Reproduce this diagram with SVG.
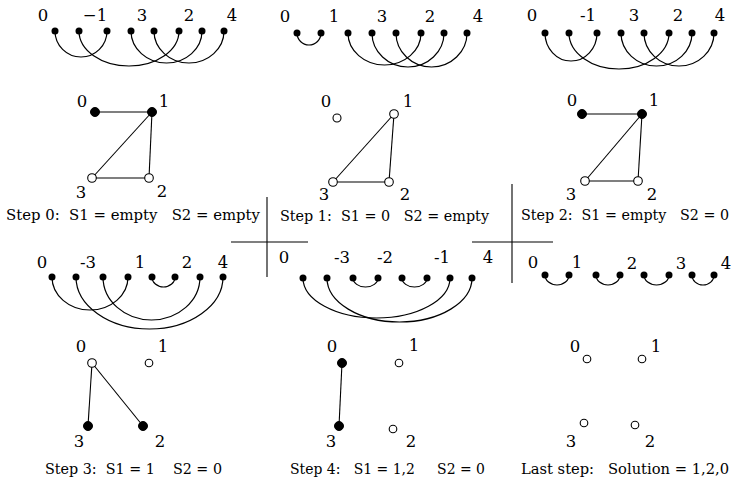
<svg xmlns="http://www.w3.org/2000/svg" width="734" height="482" viewBox="0 0 734 482" font-family="'DejaVu Serif', 'Liberation Serif', serif">
<style>
text{font-family:"DejaVu Serif","Liberation Serif",serif;font-size:16.5px;fill:#000;white-space:pre}
.l{text-anchor:middle}
.cap{font-size:14.5px}
.arc{fill:none;stroke:#000;stroke-width:1.2}
.dot{fill:#000}
.e{stroke:#000;stroke-width:1.1;fill:none}
.open{fill:#fff;stroke:#000;stroke-width:1.1}
.fill{fill:#000;stroke:#000;stroke-width:1}
.sep{stroke:#000;stroke-width:1.1}
</style>
<rect width="734" height="482" fill="#fff"/>

<!-- Panel 1 arc diagram -->
<g id="arc1">
<g class="l"><text x="43" y="21">0</text><text x="95" y="21">−1</text><text x="142" y="21">3</text><text x="189" y="21">2</text><text x="232" y="21">4</text></g>
<g class="arc">
<path d="M55 31 A26 26 0 0 0 107 31"/>
<path d="M79 31 A50 35 0 0 0 179 31"/>
<path d="M131 31 A35.5 32 0 0 0 202 31"/>
<path d="M154 31 A35 32 0 0 0 224 31"/>
</g>
<g class="dot"><circle cx="55" cy="31" r="3.5"/><circle cx="79" cy="31" r="3.5"/><circle cx="107" cy="31" r="3.5"/><circle cx="131" cy="31" r="3.5"/><circle cx="154" cy="31" r="3.5"/><circle cx="179" cy="31" r="3.5"/><circle cx="202" cy="31" r="3.5"/><circle cx="224" cy="31" r="3.5"/></g>
</g>

<!-- Panel 2 arc diagram -->
<g id="arc2">
<g class="l"><text x="285" y="22">0</text><text x="334" y="22">1</text><text x="382" y="22">3</text><text x="430" y="22">2</text><text x="478" y="22">4</text></g>
<g class="arc">
<path d="M297 33 A12 12 0 0 0 321 33"/>
<path d="M348 33 A36.5 32 0 0 0 421 33"/>
<path d="M372 33 A36 34 0 0 0 444 33"/>
<path d="M396 33 A35.5 34 0 0 0 467 33"/>
</g>
<g class="dot"><circle cx="297" cy="33" r="3.5"/><circle cx="321" cy="33" r="3.5"/><circle cx="348" cy="33" r="3.5"/><circle cx="372" cy="33" r="3.5"/><circle cx="396" cy="33" r="3.5"/><circle cx="421" cy="33" r="3.5"/><circle cx="444" cy="33" r="3.5"/><circle cx="467" cy="33" r="3.5"/></g>
</g>

<!-- Panel 3 arc diagram -->
<g id="arc3">
<g class="l"><text x="532" y="21">0</text><text x="588" y="21">-1</text><text x="634" y="21">3</text><text x="678" y="21">2</text><text x="720" y="21">4</text></g>
<g class="arc">
<path d="M545 33 A26 28 0 0 0 597 33"/>
<path d="M569 33 A50 36 0 0 0 669 33"/>
<path d="M621 33 A35.5 33 0 0 0 692 33"/>
<path d="M644 33 A35 33 0 0 0 714 33"/>
</g>
<g class="dot"><circle cx="545" cy="33" r="3.5"/><circle cx="569" cy="33" r="3.5"/><circle cx="597" cy="33" r="3.5"/><circle cx="621" cy="33" r="3.5"/><circle cx="644" cy="33" r="3.5"/><circle cx="669" cy="33" r="3.5"/><circle cx="692" cy="33" r="3.5"/><circle cx="714" cy="33" r="3.5"/></g>
</g>

<!-- Graph step 0 -->
<g id="graph0">
<g class="e"><line x1="95" y1="112" x2="152" y2="112"/><line x1="152" y1="112" x2="92" y2="178"/><line x1="152" y1="112" x2="149" y2="178"/><line x1="92" y1="178" x2="149" y2="178"/></g>
<circle class="fill" cx="95" cy="112" r="4.5"/><circle class="fill" cx="152" cy="112" r="4.5"/>
<circle class="open" cx="92" cy="178" r="4.3"/><circle class="open" cx="149" cy="178" r="4.3"/>
<g class="l"><text x="82" y="107">0</text><text x="164" y="107">1</text><text x="81" y="198">3</text><text x="162" y="197">2</text></g>
<text class="cap" x="6" y="220" textLength="254" lengthAdjust="spacingAndGlyphs" xml:space="preserve">Step 0:  S1 = empty   S2 = empty</text>
</g>

<!-- Graph step 1 -->
<g id="graph1">
<g class="e"><line x1="394" y1="114" x2="333" y2="182"/><line x1="394" y1="114" x2="389" y2="182"/><line x1="333" y1="182" x2="389" y2="182"/></g>
<circle class="open" cx="337" cy="118" r="4"/><circle class="open" cx="394" cy="114" r="4.3"/>
<circle class="open" cx="333" cy="182" r="4.3"/><circle class="open" cx="389" cy="182" r="4.3"/>
<g class="l"><text x="326" y="107">0</text><text x="408" y="107">1</text><text x="324" y="200">3</text><text x="405" y="200">2</text></g>
<text class="cap" x="280" y="221" textLength="209" lengthAdjust="spacingAndGlyphs" xml:space="preserve">Step 1:  S1 = 0   S2 = empty</text>
</g>

<!-- Graph step 2 -->
<g id="graph2">
<g class="e"><line x1="582" y1="114" x2="642" y2="114"/><line x1="642" y1="114" x2="585" y2="181"/><line x1="642" y1="114" x2="638" y2="181"/><line x1="585" y1="181" x2="638" y2="181"/></g>
<circle class="fill" cx="582" cy="114" r="4.5"/><circle class="fill" cx="642" cy="114" r="4.5"/>
<circle class="open" cx="585" cy="181" r="4.3"/><circle class="open" cx="638" cy="181" r="4.3"/>
<g class="l"><text x="572" y="106">0</text><text x="654" y="106">1</text><text x="571" y="200">3</text><text x="652" y="200">2</text></g>
<text class="cap" x="521" y="220" textLength="208" lengthAdjust="spacingAndGlyphs" xml:space="preserve">Step 2:  S1 = empty   S2 = 0</text>
</g>

<!-- Separators -->
<g id="connectors">
<line class="sep" x1="231" y1="242" x2="308" y2="242"/>
<line class="sep" x1="267" y1="197" x2="267" y2="277"/>
<line class="sep" x1="472" y1="242" x2="553" y2="242"/>
<line class="sep" x1="512" y1="184" x2="512" y2="283"/>
</g>

<!-- Panel 4 arc diagram -->
<g id="arc4">
<g class="l"><text x="42" y="268">0</text><text x="88" y="268">-3</text><text x="140" y="268">1</text><text x="187" y="268">2</text><text x="223" y="268">4</text></g>
<g class="arc">
<path d="M52 277 A38 33 0 0 0 128 277"/>
<path d="M76 277 A73.5 52 0 0 0 223 277"/>
<path d="M103 277 A48.5 43 0 0 0 200 277"/>
<path d="M152 277 A11.5 10 0 0 0 175 277"/>
</g>
<g class="dot"><circle cx="52" cy="277" r="3.5"/><circle cx="76" cy="277" r="3.5"/><circle cx="103" cy="277" r="3.5"/><circle cx="128" cy="277" r="3.5"/><circle cx="152" cy="277" r="3.5"/><circle cx="175" cy="277" r="3.5"/><circle cx="200" cy="277" r="3.5"/><circle cx="223" cy="277" r="3.5"/></g>
</g>

<!-- Panel 5 arc diagram -->
<g id="arc5">
<g class="l"><text x="284" y="263">0</text><text x="342" y="263">-3</text><text x="385" y="263">-2</text><text x="442" y="263">-1</text><text x="488" y="263">4</text></g>
<g class="arc">
<path d="M303 278 A73.5 40 0 0 0 450 278"/>
<path d="M327 278 A72.5 44 0 0 0 472 278"/>
<path d="M353 278 A12.5 9 0 0 0 378 278"/>
<path d="M402 278 A12.5 9 0 0 0 427 278"/>
</g>
<g class="dot"><circle cx="303" cy="278" r="3.5"/><circle cx="327" cy="278" r="3.5"/><circle cx="353" cy="278" r="3.5"/><circle cx="378" cy="278" r="3.5"/><circle cx="402" cy="278" r="3.5"/><circle cx="427" cy="278" r="3.5"/><circle cx="450" cy="278" r="3.5"/><circle cx="472" cy="278" r="3.5"/></g>
</g>

<!-- Panel 6 arc diagram -->
<g id="arc6">
<g class="l"><text x="533" y="268">0</text><text x="577" y="268">1</text><text x="632" y="269">2</text><text x="681" y="269">3</text><text x="726" y="269">4</text></g>
<g class="arc">
<path d="M545 275 A12 10 0 0 0 569 275"/>
<path d="M596 275 A12 10 0 0 0 620 275"/>
<path d="M644 275 A12.5 10 0 0 0 669 275"/>
<path d="M692 275 A11 10 0 0 0 714 275"/>
</g>
<g class="dot"><circle cx="545" cy="275" r="3.5"/><circle cx="569" cy="275" r="3.5"/><circle cx="596" cy="275" r="3.5"/><circle cx="620" cy="275" r="3.5"/><circle cx="644" cy="275" r="3.5"/><circle cx="669" cy="275" r="3.5"/><circle cx="692" cy="275" r="3.5"/><circle cx="714" cy="275" r="3.5"/></g>
</g>

<!-- Graph step 3 -->
<g id="graph3">
<g class="e"><line x1="92" y1="363" x2="88" y2="426"/><line x1="92" y1="363" x2="143" y2="426"/></g>
<circle class="open" cx="92" cy="363" r="4.3"/><circle class="open" cx="149" cy="363" r="3.8"/>
<circle class="fill" cx="88" cy="426" r="4.5"/><circle class="fill" cx="143" cy="426" r="4.5"/>
<g class="l"><text x="81" y="352">0</text><text x="163" y="352">1</text><text x="79" y="447">3</text><text x="160" y="447">2</text></g>
<text class="cap" x="45" y="474" textLength="177" lengthAdjust="spacingAndGlyphs" xml:space="preserve">Step 3:  S1 = 1    S2 = 0</text>
</g>

<!-- Graph step 4 -->
<g id="graph4">
<g class="e"><line x1="342" y1="363" x2="339" y2="426"/></g>
<circle class="fill" cx="342" cy="363" r="4.5"/><circle class="open" cx="399" cy="363" r="3.8"/>
<circle class="fill" cx="339" cy="426" r="4.5"/><circle class="open" cx="393" cy="429" r="3.8"/>
<g class="l"><text x="332" y="352">0</text><text x="414" y="351">1</text><text x="331" y="447">3</text><text x="411" y="447">2</text></g>
<text class="cap" x="290" y="474" textLength="195" lengthAdjust="spacingAndGlyphs" xml:space="preserve">Step 4:   S1 = 1,2     S2 = 0</text>
</g>

<!-- Last step -->
<g id="graph5">
<circle class="open" cx="587" cy="359" r="3.8"/><circle class="open" cx="642" cy="359" r="3.8"/>
<circle class="open" cx="584" cy="423" r="3.8"/><circle class="open" cx="635" cy="425" r="3.8"/>
<g class="l"><text x="575" y="352">0</text><text x="656" y="352">1</text><text x="571" y="447">3</text><text x="650" y="447">2</text></g>
<text class="cap" x="521" y="474" textLength="208" lengthAdjust="spacingAndGlyphs" xml:space="preserve">Last step:   Solution = 1,2,0</text>
</g>
</svg>
